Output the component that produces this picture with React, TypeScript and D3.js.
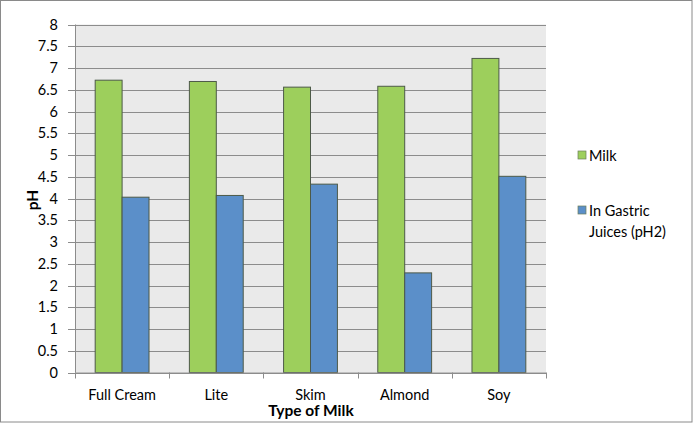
import React from "react";
import * as d3 from "d3";

const categories = ["Full Cream", "Lite", "Skim", "Almond", "Soy"];
const milkValues = [6.72, 6.69, 6.56, 6.58, 7.22];
const gastricValues = [4.03, 4.07, 4.33, 2.29, 4.51];
const seriesNames = ["Milk", "In Gastric Juices (pH2)"];
const yTicks = d3.range(0, 8.01, 0.5);

const W = 693, H = 423;
const left = 75, right = 546, top = 24.5, bottom = 372.5;
const colors = ["#9DCF5C", "#5B8FC9"];

export default function App() {
  const x = d3.scaleBand<string>().domain(categories).range([left, right]).paddingInner(0).paddingOuter(0);
  const y = d3.scaleLinear().domain([0, 8]).range([bottom, top]);
  const bw = x.bandwidth();
  const barW = bw / 3.5;
  const series = [milkValues, gastricValues];
  const font = "Lato, 'Open Sans', sans-serif";
  return (
    <div style={{ position: "absolute", left: 0, top: 0 }}>
      <svg width={W} height={H} style={{ display: "block" }} fontFamily={font}>
        <rect x={0} y={0} width={W} height={H} fill="#fff" />
        <rect x={0.5} y={0.5} width={W - 1.5} height={H - 1.5} fill="none" stroke="#8a8a8a" />
        <rect x={left} y={top} width={right - left} height={bottom - top} fill="#EAEAEA" />
        {yTicks.map((t) => (
          <g key={t}>
            <line x1={68} x2={right} y1={Math.round(y(t)) + 0.5} y2={Math.round(y(t)) + 0.5} stroke="#8c8c8c" />
            <text x={58} y={y(t) + 5} textAnchor="end" fontSize={14.5} fill="#000">{t}</text>
          </g>
        ))}
        {categories.map((c, i) =>
          series.map((s, j) => (
            <rect key={c + j} x={(x(c) as number) + bw * 0.75 / 3.5 + j * barW} y={y(s[i])}
              width={barW} height={bottom - y(s[i])} fill={colors[j]} stroke="#4d5a48" strokeWidth={1} />
          ))
        )}
        <line x1={left + 0.5} x2={left + 0.5} y1={top} y2={bottom} stroke="#8c8c8c" />
        <line x1={left} x2={right} y1={bottom + 0.5} y2={bottom + 0.5} stroke="#8c8c8c" />
        {categories.concat([""]).map((c, i) => {
          const xx = Math.round(left + i * bw) + 0.5;
          return <line key={"t" + i} x1={xx} x2={xx} y1={bottom} y2={bottom + 6} stroke="#8c8c8c" />;
        })}
        {categories.map((c) => (
          <text key={"l" + c} x={(x(c) as number) + bw / 2} y={399.5} textAnchor="middle" fontSize={14.5}>{c}</text>
        ))}
        <text x={311} y={416} textAnchor="middle" fontSize={15.5} fontWeight="bold">Type of Milk</text>
        <text transform={`translate(38,200) rotate(-90)`} textAnchor="middle" fontSize={15.5} fontWeight="bold">pH</text>
        <rect x={578} y={151} width={8} height={8} fill={colors[0]} stroke="#6b7d5a" strokeWidth={0.7} />
        <text x={589} y={161} fontSize={14.5}>{seriesNames[0]}</text>
        <rect x={578} y={206} width={8} height={8} fill={colors[1]} stroke="#6b7d5a" strokeWidth={0.7} />
        <text x={589} y={216} fontSize={14.5}>In Gastric</text>
        <text x={589} y={237} fontSize={14.5}>Juices (pH2)</text>
      </svg>
    </div>
  );
}
